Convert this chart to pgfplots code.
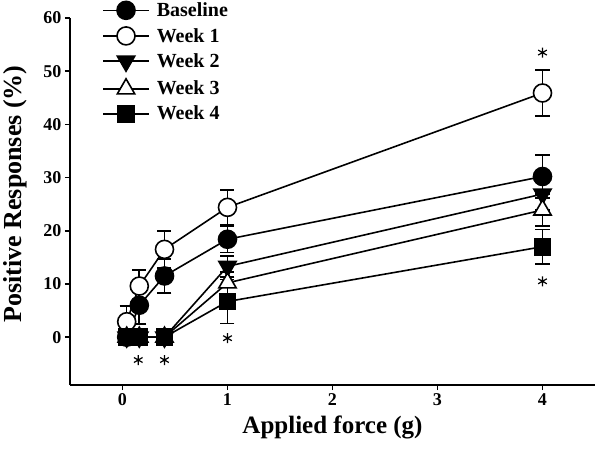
\documentclass[border=0pt]{standalone}
\usepackage{fontspec}
\setmainfont{Liberation Serif}
\usepackage{pgfplots}
\pgfplotsset{compat=1.18}
\begin{document}
\begin{tikzpicture}
\path[use as bounding box] (-70bp,-65bp) rectangle (525bp,385bp);
\begin{axis}[
  scale only axis, width=525bp, height=367bp,
  xmin=-0.5, xmax=4.5, ymin=-9, ymax=60,
  axis x line*=bottom, axis y line*=left,
  axis line style={line width=1.5bp},
  xtick={0,1,2,3,4}, ytick={0,10,20,30,40,50,60},
  tick align=outside, major tick length=5bp,
  tick style={line width=1.5bp, black},
  /pgf/number format/assume math mode=true,
  ticklabel style={font=\fontsize{18bp}{18bp}\selectfont\bfseries},
  xlabel={Applied force (g)}, ylabel={Positive Responses (\%)},
  xlabel style={font=\fontsize{25bp}{25bp}\selectfont\bfseries, at={(axis description cs:0.5,-0.1335)}, anchor=base},
  ylabel style={font=\fontsize{26bp}{26bp}\selectfont\bfseries, at={(axis description cs:-0.0933,0.5204)}, anchor=base},
  error bars/y dir=both, error bars/y explicit,
  error bars/error bar style={line width=1.6bp, black, solid},
  error bars/error mark=-,
  error bars/error mark options={black, line width=1.6bp, mark size=7bp, rotate=90},
  legend style={at={(rel axis cs:0.061,1.046)}, anchor=north west, draw=none, fill=none,
    font=\fontsize{20bp}{20bp}\selectfont\bfseries, row sep=7.6bp, inner sep=0pt,
    nodes={inner sep=1bp}},
  legend cell align=left,
  legend image code/.code={\draw[mark repeat=2,mark phase=2] plot coordinates {(0bp,0bp) (23bp,0bp) (46bp,0bp)}; \path (52bp,0bp);},
]
\addplot[black, line width=1.6bp, mark=*, mark size=9bp, mark options={fill=black, solid}]
  table[y error=e] {
x y e
0.04 0 0
0.16 6.0 3.5
0.4 11.5 3.2
1 18.4 2.5
4 30.2 4.0
};
\addlegendentry{Baseline}
\addplot[black, line width=1.6bp, mark=*, mark size=9bp, mark options={fill=white, solid}]
  table[y error=e] {
x y e
0.04 2.9 3.0
0.16 9.6 3.0
0.4 16.5 3.5
1 24.4 3.3
4 45.9 4.3
};
\addlegendentry{Week 1}
\addplot[black, line width=1.6bp, mark=triangle*, mark size=10bp, mark options={fill=black, solid, rotate=180}]
  table[y error=e] {
x y e
0.04 0 0
0.16 0 0
0.4 0 0
1 13.3 2.0
4 26.9 3.0
};
\addlegendentry{Week 2}
\addplot[black, line width=1.6bp, mark=triangle*, mark size=10bp, mark options={fill=white, solid}]
  table[y error=e] {
x y e
0.04 0 0
0.16 0 0
0.4 0 0
1 10.2 2.0
4 23.9 3.0
};
\addlegendentry{Week 3}
\addplot[black, line width=1.6bp, mark=square*, mark size=8bp, mark options={fill=black, solid}]
  table[y error=e] {
x y e
0.04 0 0
0.16 0 0
0.4 0 0
1 6.7 4.1
4 17.0 3.2
};
\addlegendentry{Week 4}
\addplot[forget plot, black, only marks, mark=asterisk, mark size=5bp, line width=1.2bp]
  coordinates {(0.15,-4.3) (0.4,-4.3) (1,-0.2) (4,53.5) (4,10.5)};
\end{axis}
\end{tikzpicture}
\end{document}
